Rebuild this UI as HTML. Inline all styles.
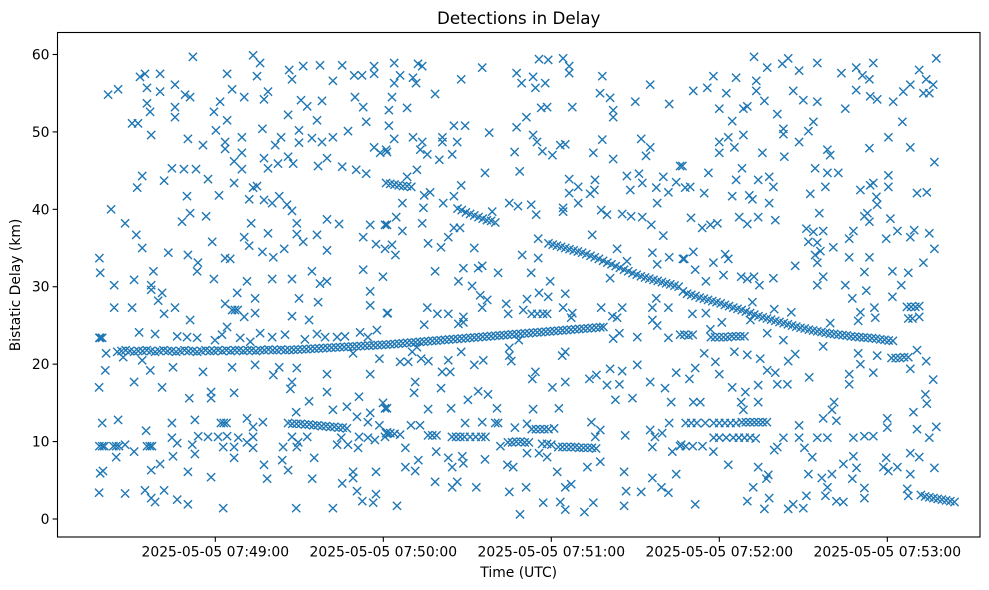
<!DOCTYPE html>
<html><head><meta charset="utf-8"><style>
html,body{margin:0;padding:0;background:#fff;}
svg{display:block;font-family:"DejaVu Sans","Liberation Sans",sans-serif;}
</style></head><body>
<svg id="chart" width="989" height="590" viewBox="0 0 989 590" xmlns="http://www.w3.org/2000/svg">
<rect x="0" y="0" width="989" height="590" fill="#fff"/>
<text x="518.7" y="24" text-anchor="middle" font-size="16.7" fill="#000">Detections in Delay</text>
<text x="518.7" y="577" text-anchor="middle" font-size="13.9" fill="#000">Time (UTC)</text>
<text transform="translate(20,285) rotate(-90)" text-anchor="middle" font-size="13.9" fill="#000">Bistatic Delay (km)</text>
<g id="marks"></g>
<g id="axes"></g>
</svg>
<script>
// time in seconds after 2025-05-05 07:48:00 UTC, delay in km
const xTickSeconds = [60, 120, 180, 240, 300];
const xTickLabels = ["2025-05-05 07:49:00","2025-05-05 07:50:00","2025-05-05 07:51:00","2025-05-05 07:52:00","2025-05-05 07:53:00"];
const yTickValues = [0, 10, 20, 30, 40, 50, 60];
const yTickLabels = ["0","10","20","30","40","50","60"];

// main track 1 (start 25 s, step 1.5 s)
const track1Start = 25, track1Step = 1.5;
const track1Km = [21.6,21.7,21.8,21.7,21.6,21.7,21.7,21.8,21.7,21.6,21.7,21.8,21.7,21.7,21.6,21.7,21.8,21.7,21.7,21.6,21.7,21.8,21.7,21.7,21.8,21.7,21.8,21.7,21.8,21.8,21.7,21.8,21.8,21.7,21.8,21.8,21.9,21.8,21.8,21.9,21.8,
21.83,21.86,21.89,21.92,21.95,21.98,22.01,22.04,22.07,22.1,22.13,22.16,22.19,22.22,22.25,22.28,22.31,22.34,22.37,22.4,22.43,22.46,22.49,22.52,
22.56,22.6,22.65,22.69,22.74,22.78,22.82,22.87,22.91,22.96,23.0,23.04,23.09,23.13,23.18,23.22,23.26,23.31,23.35,23.4,23.44,23.48,23.53,23.57,23.62,23.66,23.7,23.75,23.79,23.84,23.88,23.92,23.97,24.01,24.06,24.1,24.14,24.19,24.23,24.28,24.32,24.36,24.41,24.45,24.5,24.54,24.58,24.63,24.67,24.72,24.76];

// main track 2 (start 179 s, step 1.5 s)
const track2Start = 179, track2Step = 1.5;
const track2Km = [35.6,35.45,35.3,35.15,35.0,34.85,34.7,34.55,34.4,34.2,34.0,33.8,33.6,33.35,33.1,32.9,32.65,32.45,32.2,32.0,31.75,31.55,31.35,31.2,31.05,30.9,30.75,30.6,30.45,30.3,30.15,30.0,29.4,29.1,28.95,28.8,28.6,28.45,28.3,28.15,28.0,27.85,27.65,27.5,27.3,27.15,27.0,26.8,26.6,26.4,26.2,26.05,25.9,25.75,25.6,25.45,25.3,25.15,25.0,24.85,24.7,24.6,24.45,24.35,24.25,24.15,24.05,23.95,23.9,23.8,23.75,23.7,23.6,23.55,23.5,23.45,23.4,23.35,23.3,23.2,23.15,23.05,23.0];

// short bands: [seconds, km]
const bandPoints = [
[121,43.4],[122.5,43.3],[124,43.2],[125.5,43.1],[127,43.0],[128.5,43.0],[130,42.9],
[146.5,40.1],[148,39.9],[149.5,39.6],[151,39.4],[152.5,39.2],[154,39],[155.5,38.8],[157,38.6],[158.5,38.5],[160,38.3],
[86,12.4],[87.5,12.3],[89,12.3],[90.5,12.3],[92,12.2],[93.5,12.2],[95,12.1],[96.5,12.1],[98,12.0],[99.5,12],[101,11.9],[102.5,11.9],[104,11.8],[105.5,11.8],[107,11.7],
[62,12.4],[63,12.4],[64,12.4],[18.6,9.4],[19.6,9.4],[20.4,9.4],[23.6,9.4],[24.6,9.4],[25.6,9.4],[35.6,9.4],[36.6,9.4],[37.4,9.4],[18.6,23.4],[19.6,23.4],[66,27],[67,27],[68,27],
[173,26.5],[175,26.5],[177,26.5],[178.5,26.5],
[121,11.1],[122.5,11.1],[124,11.0],[126,10.9],[136,10.8],[137.5,10.8],[139,10.8],
[144.5,10.6],[146,10.6],[147.5,10.6],[149,10.6],[151,10.6],[153,10.6],[155,10.6],[156.5,10.6],[160,12.4],[161,12.4],
[173,11.6],[174.5,11.6],[176,11.6],[177.5,11.6],[179,11.6],[181,11.7],
[164.5,9.9],[166,9.9],[167.5,10],[169,10],[170.5,9.9],[172,9.9],[176.7,9.7],[178.5,9.7],[180,9.6],
[182.5,9.3],[184,9.3],[185.5,9.3],[187,9.3],[188.5,9.3],[190,9.2],[191.5,9.2],[193,9.2],[194.5,9.2],[196,9.1],
[226,23.8],[227.5,23.8],[229,23.7],[230.5,23.8],[237,23.5],[238.5,23.5],[240,23.5],[241.5,23.5],[243,23.5],[244.5,23.6],[246,23.6],[247.5,23.6],[249,23.6],
[301.5,20.8],[303,20.8],[304.5,20.8],[306,20.9],[307.5,20.9],[307,27.4],[308.5,27.4],[310,27.4],[307.5,25.9],[309,25.9],
[228,12.4],[230,12.4],[232,12.4],[235,12.4],[238,12.4],[240,12.4],[242,12.4],[244,12.4],[246,12.4],[248,12.5],[249.5,12.5],[251,12.5],[252.5,12.5],[254,12.5],[255.5,12.5],[257,12.5],
[238,10.5],[240,10.5],[242.5,10.5],[245,10.5],[247,10.5],[249,10.5],[251,10.5],[253,10.4],
[226,9.4],[228,9.4],[230.5,9.4],[234,9.4],
[312,3.1],[313.5,2.9],[315,2.8],[316.5,2.7],[318,2.6],[319.5,2.5],[321,2.4],[322.5,2.3],[324,2.2]
];

// scattered detections: [seconds, km]
const scatterPoints = [
[21.7,54.8],[25.3,55.5],[33.1,57.1],[34.9,57.5],[40.3,57.5],[52,59.7],[35.6,55.7],[40.3,55.2],[45.6,56.1],[49.2,54.8],[51,54.5],[35.6,53.7],[45.6,53.2],[45.6,51.9],[36.7,52.6],[30.3,51.1],[32.4,51.1],[37.1,49.6],[50.2,49.1],[55.6,48.3],
[73.5,59.9],[76,58.9],[64.2,57.5],[74.9,57.2],[66,55.5],[70.3,54.5],[77.4,54.2],[78.8,55.2],[61.7,53.9],[59.5,52.6],[64.2,51.5],[60.2,50.2],[63.5,48.7],[63.5,47.8],[69.5,49.3],[69.5,47.3],[66.7,46.2],[69.5,45.2],
[86.4,58],[91.4,58.5],[97.4,58.6],[105.3,58.6],[109.6,57.3],[112.4,57.3],[116.7,58.5],[116.7,57.5],[102,56.6],[87.4,56.8],[90.6,54.1],[92.8,53.3],[98.1,54],[109.9,54.5],[112.8,53.2],[86,52.2],[96.3,51.5],[76.8,50.4],[89.9,50.2],[83.5,49.3],[81.4,48.3],[89.9,48.6],[94.5,49.2],[98.1,48.7],[102,49.3],[107.4,50.1],[113.9,51.3],[116.7,48],[118.9,47.3],[121,47.7],
[77.4,46.6],[78.8,45.3],[82.4,45.9],[86,46.8],[87.8,45.9],[96.7,45.6],[99.9,46.6],[105.3,45.5],[110.3,45.1],[113.9,44.6],[44.5,45.3],[48.8,45.2],[53.1,45.2],[41.7,43.7],[33.9,44.3],[32.1,42.8],[57.4,43.9],[66.7,43.4],[73.5,42.8],[74.9,43],[72.1,41.3],[77.4,41.2],[80.3,40.8],[82.8,41.7],[85.6,40.6],[87.4,39.8],[61.3,41.8],[49.9,41.7],[22.8,40],[51,39.5],[48.1,38.4],[56.7,39.1],[27.8,38.2],[31.8,36.7],[33.9,35],[43.2,34.4],[50.2,34.1],[53.8,33.1],[53.5,32],[63.5,33.7],[65.3,33.6],[58.9,35.8],[70.3,36.4],[72.1,35.3],[72.8,38.2],[78.8,36.9],[76.8,34.5],[80.7,33.8],[84.6,34.9],[89.1,38.2],[89.1,36.8],[91.4,35.8],[96.3,36.7],[99.9,38.7],[104.2,38.1],[99.9,34.7],[112.8,36.4],[115.3,38],[120.6,38],[117.4,35.5],[120.6,34.9],[18.6,33.7],[18.9,31.8],[23.9,30.2],[31,30.9],[37.1,30.2],[37.9,32],[59.5,31],[71.3,30.7],[80.3,31],[87.4,31],[94.5,32],[97.4,30.4],[99.9,30.7],[112.8,32.2],[119.9,31.3],
[18.9,23.4],[32.8,24.1],[38.5,23.9],[46.4,23.6],[49.9,23.5],[53.5,23.4],[59.9,23.1],[62.4,23.8],[68.9,23.4],[72.5,22.9],[76,24],[80.3,23.5],[84.9,23.8],[92,23.2],[96.3,23.9],[99.2,23.5],[103.5,23.5],[106.3,23.6],[111.7,24.1],[117.7,24.4],[114.5,23.5],
[21,21.4],[27.1,20.9],[33.9,20.5],[36.8,19.2],[44.9,19.6],[55.6,19],[66,19.6],[74.2,19.9],[82.8,19.6],[80.7,18.6],[89.1,19.5],[87.4,17.7],[86.8,16.8],[99.9,18.7],[109.2,21.4],[118.6,20.7],[115.3,18.7],[20.7,19.2],[18.5,17],[31,17.7],[41,17],[50.7,15.6],[58.5,16.4],[58.5,15.6],[66.7,16.3],[99.9,16.4],[93.5,15.2],[111.3,15.8],
[23.9,27.3],[30.3,27.3],[45.6,27.3],[37.1,29.6],[41,29.2],[39.6,28.2],[41.7,26.5],[51,25.7],[63.5,27.8],[67.8,29.2],[74.2,28.5],[74.2,26.6],[70.3,26.1],[64.2,24.8],[89.9,28.5],[96.7,28],[87.4,26.2],[93.5,25.7],[115.3,29.4],[115.3,27.6],[121.3,26.6],
[19.6,12.4],[25.3,12.8],[35.3,11.4],[44.5,12.4],[52.7,12.8],[71.3,13],[77,12.5],[73.5,11.9],[88.9,13.8],[102,14.1],[107,14.5],[110.6,13.2],[115.3,13.7],[119.9,15],[120.6,14.3],[118.6,12.1],[114.5,12.5],
[27.8,9.6],[31,8.7],[24.6,8],[44.5,10.5],[46.4,9.8],[44.9,8.1],[51.8,9.6],[52.7,8.4],[53.9,10.7],[57.4,10.6],[61,10.6],[64.2,10.7],[62.8,9.3],[66.7,9.3],[68.2,10.5],[71.3,9.9],[73.5,9.2],[73.5,10.6],[66.7,7.9],[84.2,9.3],[83.9,7.6],[87.4,10.6],[89.6,9.9],[92.8,10.6],[89.1,9.3],[95.3,7.9],[103.5,9.6],[105,10.5],[107.4,9.6],[111,9.2],[111.3,10.6],[114.5,10.5],[117,10.2],[121.3,11.2],[120.6,10.6],
[18.9,5.9],[19.9,6.2],[18.5,3.4],[27.8,3.3],[34.9,3.7],[37.1,2.7],[38.5,2.2],[41.7,3.7],[37.1,6.3],[40.3,7.1],[46.4,2.5],[50.2,1.9],[50.2,6.1],[58.5,5.4],[62.8,1.4],[77.4,7],[78.5,5.2],[86,6.3],[88.9,1.4],[94.6,5.2],[102,1.4],[105.3,4.6],[109.2,6.1],[109.2,5.3],[110.6,3.6],[112.5,2.3],[116.4,2.1],[117.4,6.1],[117.4,3.2],
[123.9,58.9],[132.4,58.8],[133.9,58.5],[126,57.3],[123.9,56.3],[130.6,57],[131.7,56.3],[123.1,54.5],[122,52.8],[122,50.8],[123.9,49.1],[128.5,53.1],[138.5,54.9],[147.8,56.8],[155.3,58.3],[145.2,50.8],[149.2,50.8],[157.8,49.9],[130.6,49.3],[133.9,48.7],[141.1,49.3],[141.1,48.7],[146.4,48.7],[133.2,47.7],[135.7,47.1],[140,46.4],[144.6,47.1],[132,45.1],[121.3,47.4],[128.5,44.2],[156.3,44.7],[147.8,43.1],[168.7,44.9],[166.9,47.4],[167.6,50.6],[171.1,51.9],[167.6,57.6],[169.4,56.3],[173.5,57.1],[174.3,55.7],[177.8,56.3],[175.6,59.4],[178.9,59.3],[184.2,59.5],[186.4,58.5],[186.4,57.6],[176.4,53.1],[178.5,53.2],[187.5,53.2],[173.5,49.6],[174.9,48.7],[176.8,47.5],[180.4,47],[183.2,48.3],[185,48.4],[198.2,57.2],[197.4,55],[201,54.4],[202.1,52.8],[202.1,51.9],[210,53.9],[215.3,56.1],[222.1,53.6],[198.2,49],[195,47.3],[202.1,46.5],[212.1,49.1],[215.3,48],[213.8,46.9],[226,45.6],
[126.8,40.8],[134.6,41.8],[136.7,42.2],[141.4,40.8],[145.2,41.7],[134.3,40.2],[133.9,38.2],[124.6,39],[121.3,38],[126.8,37.2],[123.1,35.4],[124.3,34.1],[136,35.6],[140.6,35.1],[143.2,36.4],[145.2,37.6],[147.4,37.6],[152.5,35],[158.9,39.7],[165,40.8],[168.1,40.4],[172.8,40.6],[174.6,39.3],[184.2,40.2],[184.2,39.7],[138.5,32],[146.8,30.7],[148.6,32.4],[153.9,32.4],[155.3,32.7],[151.7,30.1],[161,31.8],[169.6,34.1],[175.3,36.2],[175.3,33.7],[172.8,31.8],[179.6,30.7],[186.4,43.9],[186.4,42.1],[189.6,42.9],[189.6,40.8],[193.9,42],[195.6,43.8],[195.4,42.5],[197.8,39.9],[199.9,39.3],[205.3,39.4],[208.5,39.1],[212.5,39],[215.7,38],[207,44.3],[208.2,42.5],[211.3,44.6],[212.5,43.4],[217.5,42.8],[220,44.2],[221.8,42.2],[224.6,43.5],[217.8,40.8],[194.6,36.7],[220,36.6],[203.5,34.9],[207,33.3],[216.1,34.4],[217.8,32.9],[222.1,33.8],[227,33.6],[201,31.1],
[135.7,27.3],[139.3,26.5],[143.2,26.5],[148.6,26.1],[146.8,25.2],[154.6,28.9],[155.3,27.3],[157.1,28.3],[163.9,27.8],[164.6,26.5],[170,27],[171.3,28.4],[175.6,29.2],[178.9,28.7],[185,29.1],[184.2,27.3],[187.5,26.6],[187.1,26],[197.8,27.3],[201.8,26.2],[205.3,27.3],[203.5,26],[198.6,24.8],[204.3,24],[202.1,23.3],[210.7,23.5],[216.1,27.3],[217.5,28.5],[221.8,27.3],[217.8,25],[216.1,25.7],[221.8,23.4],[226,23.8],[121.6,26.6],[134.6,25.1],[148.6,25.4],[168.4,23.1],
[132,22.2],[130.3,21.6],[126,20.3],[128.9,20.3],[133.5,20.7],[136.1,20.4],[143.2,20.5],[147.8,21.6],[152.5,19.9],[155.7,20.5],[165,22.1],[165,21.1],[165.7,20.4],[183.9,21.1],[185,21.6],[131.4,17.7],[131,16.3],[141,19],[143.9,19],[140.6,16.9],[150.2,15.4],[153.9,16.5],[157.4,16.1],[174.3,19],[173.2,18.1],[180.4,17],[185,17.7],[193.6,18.1],[196.1,18.6],[201,19.4],[205.3,19.1],[210.7,19.9],[199.9,17.3],[204.3,17.4],[202.9,15.4],[209,15.6],[215.3,17.7],[220.6,16.9],[222.8,15.1],[224.6,18.9],
[121.3,14.3],[136,14.2],[144.2,14.3],[160.6,14.3],[173.5,14.2],[182.7,14.3],[129.9,12.1],[133.1,12.1],[149.2,12.4],[155.3,12.5],[167,11.8],[171.3,12.3],[194.3,12.5],[197.5,11.5],[195.7,10.6],[206.4,10.8],[215.3,11.5],[217,10.6],[219.6,11.1],[222.1,12.4],[223.2,8.7],[226.4,9.6],[216.1,9.3],[127.9,9.2],[138.9,8.7],[132.5,7.6],[127.9,6.7],[131.4,6.2],[143.2,7.9],[148.2,8.1],[148.6,7.2],[144.6,6.7],[156.3,7.7],[161.8,9.4],[164.3,7],[166.4,6.7],[171.3,8.5],[175.6,8.5],[178.5,8],[182.1,6.1],[192.9,6.7],[197.5,7.4],
[138.5,4.8],[146.4,4.8],[144.6,4.1],[153.2,4.1],[165,3.5],[171,4.1],[185,4.1],[187.1,4.5],[206,6.1],[206.7,3.6],[212.1,3.5],[216.1,5.3],[219.3,4.1],[221.8,3.4],[224.6,5.8],[124.9,1.7],[168.8,0.6],[177.1,2.1],[183.2,2.2],[185,1.2],[191.8,0.9],[195,2.1],[206,1.7],
[252.4,59.7],[257.1,58.3],[262.5,58.8],[264.6,59.5],[268.5,57.9],[275,58.9],[283.6,57.6],[288.9,58.3],[291.1,57.3],[293.6,56.8],[295,58.9],[311.4,58],[317.5,59.5],[313.9,56.8],[316.4,56.1],[308.2,56.1],[305.7,55.2],[312.9,55],[315,55],[302.1,53.9],[296.4,54.2],[293.9,54.6],[288.9,55.4],[285,53],[275,53.9],[270,54.1],[266.4,55.3],[256.1,54],[253.2,55.3],[253.2,56.6],[246,57],[237.9,57.2],[235.7,55.7],[230.7,55.3],[242.5,55],[240,53],[248.6,53],[250,53.3],[244.6,51.4],[260.7,52.3],[273.6,51.3],[271.8,50.1],[262.9,50.4],[262.9,49.7],[268.5,48.7],[263.2,46.8],[255.4,47.3],[248.6,49.6],[243.2,49.3],[240,48.7],[240,47.3],[245.4,48],[278.6,47.7],[279.6,47],[293.6,47.9],[300.4,49.3],[305.4,51.3],[308.2,48],[316.8,46.1],
[274.2,45.3],[278.6,44.7],[282.5,44.7],[277.9,42.9],[272.5,42],[290.4,42.5],[293.9,43.1],[295,43.4],[296.1,41.6],[300.4,44.4],[300.4,42.9],[296.4,40.6],[310.6,42.1],[314.1,42.2],[316.8,34.9],[248.1,45.3],[236.1,44.7],[246,43.8],[253.9,43.8],[257.8,44.2],[259.3,42.9],[250.7,41.8],[251.8,41.3],[257.8,40.8],[244.6,41.7],[234.6,42.1],[229.6,42.9],[227.8,42.8],[226.8,45.6],[275.7,39.5],[260,38.6],[253.9,39],[247.1,39],[250,38.1],[239.3,38.2],[236.8,38],[233.9,37.6],[229.9,38.9],[271.1,37.5],[273.6,37.1],[277.1,37.2],[271.8,35.8],[275,35.7],[276.1,34.6],[274.2,34.1],[275,33.1],[280.7,35.1],[286.4,36.2],[287.9,37.2],[286.4,33.8],[291.8,39.1],[293.6,38.4],[292.9,39.5],[301.1,38.8],[303.6,37.2],[299.6,36.2],[308.2,36.4],[309.6,37.3],[315,36.9],[293.6,33.8],[291.8,31.9],[301.8,32],[307.5,31.8],[312.9,33.1],[230.7,34.5],[227.5,33.6],[237.9,33.1],[242.1,34.2],[243.2,33.6],[231.4,32.2],[235.2,30.7],[241.5,31.5],[247.8,31.3],[250,31],[252.4,31.3],[254.3,30.2],[259.3,31.1],[267.1,32.7],[277.1,31.3],[275,30.2],[285,30.2],[305,30.2],
[230.4,26.5],[235.2,26.6],[240.9,25.4],[236.8,24.5],[251.1,25.7],[251.8,28],[257.1,24],[259.6,27.1],[265.7,26.7],[262.9,23.1],[279.6,25.3],[277.1,22.3],[287.5,28.5],[290.4,26.7],[289.6,25.6],[295.4,27.3],[295.7,26],[292.5,29.5],[301.8,28.7],[311.4,27.5],[311.4,26.1],
[234.6,21.4],[238.6,20.3],[240,18.7],[231.4,19.5],[229.3,18.1],[245.4,21.6],[250,21.2],[254.6,20.7],[257.1,19.2],[260,18.9],[264.6,20.4],[267.1,21.3],[260.7,17.4],[264.3,17.4],[253.9,17.3],[244.6,17],[249.3,16.4],[272.1,18.3],[286.4,18.7],[286.4,17.4],[289.6,21.4],[290.4,20],[296.4,21.1],[295,18.9],[308.2,19.4],[310.6,21.8],[313.9,20.4],[316.4,18],[313.6,16.1],[314.1,14.9],[309.3,13.8],[310.6,11.6],[317.5,11.9],[315,10.5],[300,13],[300,11.8],[295,10.7],[291.8,10.7],[287.9,10.5],[281,15.1],[280.2,14.1],[277.1,13],[281.8,12.7],[278.6,10.5],[275,10.5],[268.5,12.1],[268.5,10.5],[262.9,10.5],[270.4,9.2],[273.2,8],[259.6,8.9],[260.7,9.3],[253.9,15.1],[247.8,15.1],[248.6,14.1],[230.7,15.1],[233.2,15.1],
[237.9,8.7],[243.2,7],[253.9,6.7],[257.5,5.7],[256.8,5.2],[252.1,4.1],[250,2.3],[257.8,2.7],[256.1,1.3],[264.6,1.3],[266.4,1.9],[270,1.4],[271.1,3],[231.4,1.9],[271.8,5.8],[276.6,5.3],[280.2,5.8],[278.6,4.1],[277.9,3],[281.8,2.3],[284.3,2.2],[284.3,7.1],[287.9,8.1],[289,6.6],[287.5,5.2],[291.8,4],[291.8,2.7],[298.6,6.7],[300.4,6.2],[303.6,6.7],[299.6,7.9],[308.2,8.5],[311.4,8],[308.2,5.8],[316.8,6.6],[307.1,3.9],[307.5,3]
];

const X0 = 57.5, X1 = 980, Y0 = 32.5, Y1 = 537;
const T_MIN = 3.64, T_MAX = 333.1;
const KM_MIN = -2.325, KM_MAX = 62.84;
function sx(t) { return X0 + (t - T_MIN) / (T_MAX - T_MIN) * (X1 - X0); }
function sy(km) { return Y1 - (km - KM_MIN) / (KM_MAX - KM_MIN) * (Y1 - Y0); }

const NS = "http://www.w3.org/2000/svg";
const marks = document.getElementById("marks");
const axes = document.getElementById("axes");
const R = 4.1;
let d = "";
function addMark(t, km) {
  const x = sx(t), y = sy(km);
  d += "M" + (x - R).toFixed(1) + " " + (y - R).toFixed(1) + "L" + (x + R).toFixed(1) + " " + (y + R).toFixed(1) +
       "M" + (x - R).toFixed(1) + " " + (y + R).toFixed(1) + "L" + (x + R).toFixed(1) + " " + (y - R).toFixed(1);
}
track1Km.forEach(function (v, i) { addMark(track1Start + i * track1Step, v); });
track2Km.forEach(function (v, i) { addMark(track2Start + i * track2Step, v); });
bandPoints.forEach(function (p) { addMark(p[0], p[1]); });
scatterPoints.forEach(function (p) { addMark(p[0], p[1]); });
const path = document.createElementNS(NS, "path");
path.setAttribute("d", d);
path.setAttribute("stroke", "#1f77b4");
path.setAttribute("stroke-width", "1.4");
path.setAttribute("fill", "none");


marks.appendChild(path);

// frame
const frame = document.createElementNS(NS, "rect");
frame.setAttribute("x", X0); frame.setAttribute("y", Y0);
frame.setAttribute("width", X1 - X0); frame.setAttribute("height", Y1 - Y0);
frame.setAttribute("fill", "none"); frame.setAttribute("stroke", "#000"); frame.setAttribute("stroke-width", "1.1");


axes.appendChild(frame);

xTickSeconds.forEach(function (t, i) {
  const x = sx(t);
  const tk = document.createElementNS(NS, "line");
  tk.setAttribute("x1", x); tk.setAttribute("x2", x); tk.setAttribute("y1", Y1); tk.setAttribute("y2", Y1 + 4.9);
  tk.setAttribute("stroke", "#000"); tk.setAttribute("stroke-width", "1.1");
  
  
  axes.appendChild(tk);
  const lb = document.createElementNS(NS, "text");
  lb.setAttribute("x", x); lb.setAttribute("y", Y1 + 19.5);
  lb.setAttribute("text-anchor", "middle"); lb.setAttribute("font-size", "13.9");
  lb.textContent = xTickLabels[i];
  
  
  axes.appendChild(lb);
});
yTickValues.forEach(function (v, i) {
  const y = sy(v);
  const tk = document.createElementNS(NS, "line");
  tk.setAttribute("x1", X0 - 4.9); tk.setAttribute("x2", X0); tk.setAttribute("y1", y); tk.setAttribute("y2", y);
  tk.setAttribute("stroke", "#000"); tk.setAttribute("stroke-width", "1.1");
  
  
  axes.appendChild(tk);
  const lb = document.createElementNS(NS, "text");
  lb.setAttribute("x", X0 - 8); lb.setAttribute("y", y + 5);
  lb.setAttribute("text-anchor", "end"); lb.setAttribute("font-size", "13.9");
  lb.textContent = yTickLabels[i];
  
  
  axes.appendChild(lb);
});
</script>
</body></html>
